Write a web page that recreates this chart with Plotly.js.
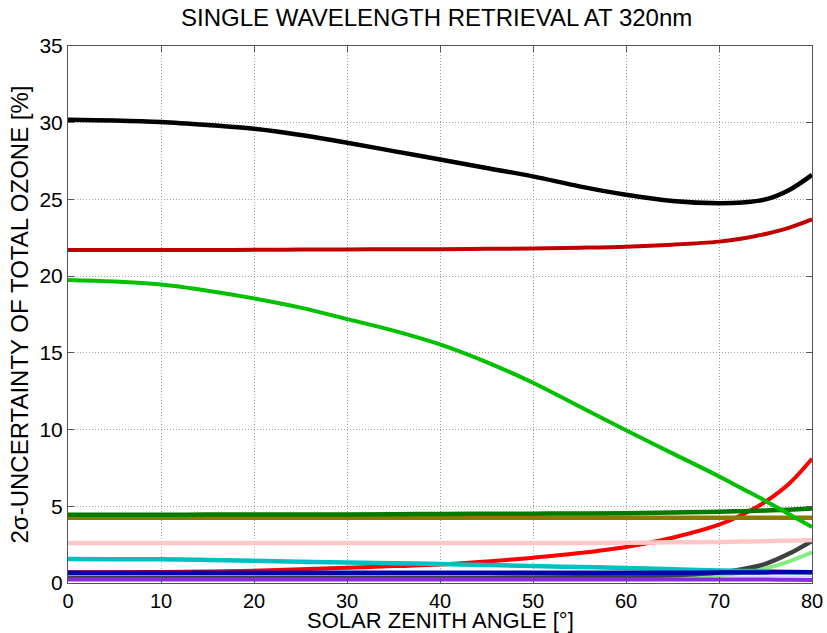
<!DOCTYPE html>
<html><head><meta charset="utf-8">
<script src="https://cdn.plot.ly/plotly-3.0.1.min.js"></script>
<style>html,body{margin:0;padding:0;background:#fff}#c{width:827px;height:633px}</style>
</head><body><div id="c"></div>
<script>
const sza = [0, 5, 10, 15, 20, 25, 30, 35, 40, 45, 50, 55, 60, 65, 70, 72.5, 75, 77.5, 80];
const total = [30.2, 30.15, 30.05, 29.85, 29.6, 29.2, 28.7, 28.15, 27.6, 27.05, 26.5, 25.85, 25.3, 24.9, 24.75, 24.8, 25.0, 25.6, 26.6];
const darkRed = [21.7, 21.7, 21.7, 21.7, 21.72, 21.73, 21.74, 21.75, 21.76, 21.78, 21.8, 21.85, 21.92, 22.05, 22.25, 22.45, 22.75, 23.15, 23.7];
const green = [19.75, 19.65, 19.45, 19.05, 18.55, 17.95, 17.2, 16.45, 15.55, 14.4, 13.05, 11.5, 9.95, 8.45, 6.95, 6.15, 5.35, 4.5, 3.65];
const red = [0.7, 0.7, 0.72, 0.75, 0.8, 0.9, 1.0, 1.1, 1.2, 1.4, 1.65, 1.95, 2.35, 2.95, 3.8, 4.45, 5.3, 6.45, 8.1];
const darkGreen = [4.45, 4.45, 4.45, 4.46, 4.46, 4.47, 4.47, 4.48, 4.5, 4.51, 4.52, 4.53, 4.55, 4.6, 4.65, 4.68, 4.72, 4.78, 4.85];
const olive = [4.25, 4.25, 4.25, 4.25, 4.25, 4.25, 4.25, 4.25, 4.25, 4.25, 4.25, 4.25, 4.25, 4.25, 4.25, 4.25, 4.25, 4.25, 4.25];
const pink = [2.6, 2.6, 2.6, 2.6, 2.6, 2.6, 2.6, 2.6, 2.6, 2.6, 2.6, 2.61, 2.62, 2.65, 2.68, 2.7, 2.72, 2.76, 2.8];
const cyan = [1.56, 1.55, 1.54, 1.5, 1.45, 1.39, 1.33, 1.28, 1.24, 1.17, 1.1, 1.04, 0.98, 0.9, 0.82, 0.79, 0.76, 0.73, 0.7];
const blue = [0.67, 0.67, 0.67, 0.67, 0.67, 0.67, 0.67, 0.67, 0.67, 0.67, 0.67, 0.67, 0.67, 0.67, 0.68, 0.68, 0.69, 0.7, 0.7];
const lavender = [0.42, 0.42, 0.42, 0.42, 0.42, 0.42, 0.42, 0.42, 0.42, 0.42, 0.42, 0.42, 0.42, 0.42, 0.42, 0.42, 0.42, 0.42, 0.42];
const lightGreen = [0.3, 0.3, 0.3, 0.3, 0.3, 0.3, 0.3, 0.3, 0.3, 0.3, 0.3, 0.31, 0.34, 0.4, 0.5, 0.68, 0.95, 1.4, 2.0];
const gray = [0.35, 0.35, 0.35, 0.35, 0.35, 0.35, 0.35, 0.35, 0.35, 0.35, 0.36, 0.38, 0.42, 0.5, 0.68, 0.9, 1.25, 1.9, 2.75];
const purple = [0.22, 0.22, 0.22, 0.22, 0.22, 0.22, 0.22, 0.22, 0.22, 0.22, 0.22, 0.22, 0.22, 0.22, 0.22, 0.22, 0.22, 0.21, 0.2];
const xTitle = 'SOLAR ZENITH ANGLE [°]';
const yTitle = '2σ-UNCERTAINTY OF TOTAL OZONE [%]';
const chartTitle = 'SINGLE WAVELENGTH RETRIEVAL AT 320nm';

const series = [
  [red, '#ff0000', 4],
  [lavender, '#d8d0ff', 2],
  [lightGreen, '#80ee80', 4],
  [gray, '#404040', 4.5],
  [cyan, '#00c0c0', 4.5],
  [blue, '#0000b0', 4.5],
  [purple, '#8a2be2', 4],
  [pink, '#ffc8c8', 4.5],
  [olive, '#8a7a00', 4.5],
  [darkGreen, '#007a00', 4.5],
  [green, '#00c000', 4],
  [darkRed, '#c00000', 4],
  [total, '#000000', 4.5]
];

const traces = series.map(s => ({
  x: sza, y: s[0], type: 'scatter', mode: 'lines',
  line: {color: s[1], width: s[2], shape: 'spline', smoothing: 1},
  hoverinfo: 'skip', showlegend: false
}));

const FONT = 'Liberation Sans, Arial, sans-serif';
const axCommon = {
  showline: true, mirror: 'ticks', linecolor: '#555', linewidth: 1,
  ticks: 'inside', ticklen: 6, tickcolor: '#555',
  showgrid: true, gridcolor: '#a0a0a0', griddash: '1px,2px', gridwidth: 1,
  zeroline: false,
  tickfont: {family: FONT, size: 21, color: '#000'}
};

const layout = {
  width: 827, height: 633,
  margin: {l: 68, r: 15, t: 46, b: 50},
  paper_bgcolor: '#fff', plot_bgcolor: '#fff',
  title: {text: chartTitle, x: 0.528, xanchor: 'center', y: 0.972, yanchor: 'middle',
          font: {family: FONT, size: 24, color: '#000'}},
  xaxis: Object.assign({}, axCommon, {
    range: [0, 80], dtick: 10, tick0: 0,
    tickfont: {family: FONT, size: 20, color: '#000'}
  }),
  yaxis: Object.assign({}, axCommon, {
    range: [0, 35], dtick: 5, tick0: 0,
    title: {text: yTitle, standoff: 4,
            font: {family: FONT, size: 24, color: '#000'}}
  }),
  annotations: [{
    text: xTitle, xref: 'paper', yref: 'paper', x: 0.501, y: 0,
    xanchor: 'center', yanchor: 'top', yshift: -23, showarrow: false,
    font: {family: FONT, size: 22, color: '#000'}
  }]
};

Plotly.newPlot('c', traces, layout, {staticPlot: true, displayModeBar: false});
</script>
</body></html>
